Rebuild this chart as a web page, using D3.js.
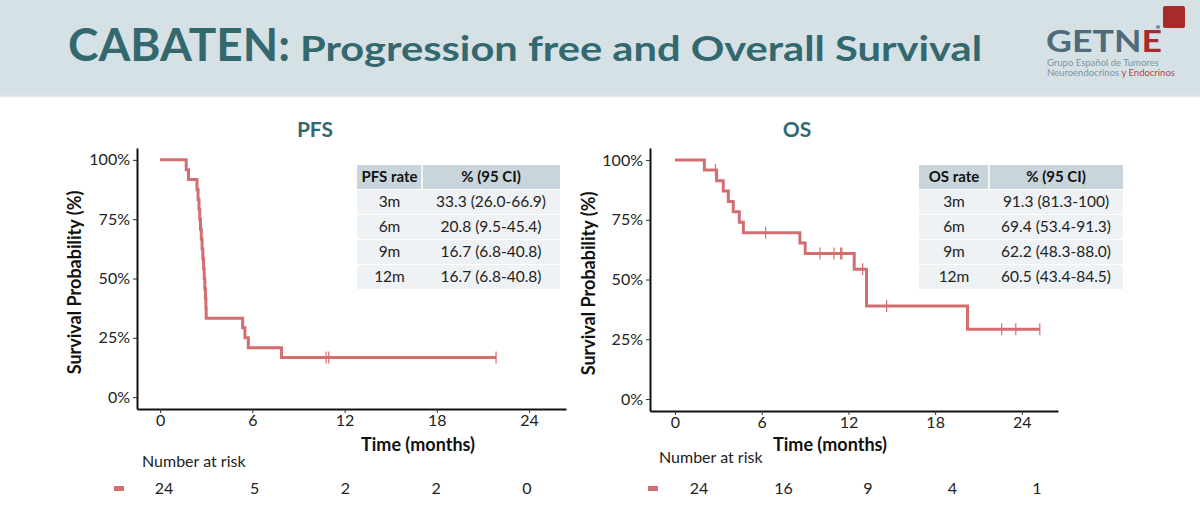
<!DOCTYPE html>
<html lang="en">
<head>
<meta charset="UTF-8">
<title>CABATEN survival</title>
<script src="https://cdnjs.cloudflare.com/ajax/libs/d3/7.8.5/d3.min.js"></script>
<style>
  body { margin: 0; background: #fff; }
  text { font-family: Lato, "Open Sans", sans-serif; }
</style>
</head>
<body>
<div id="chart"></div>
<script>
// ---- data ----
const timeTicks = [0, 6, 12, 18, 24];
const survTicks = [0, 25, 50, 75, 100];

// PFS Kaplan-Meier steps (months, %)
const pfsTimes = [0, 1.7, 1.85, 2.4, 2.47, 2.53, 2.58, 2.63, 2.68, 2.73, 2.78, 2.83, 2.87, 2.91, 2.95, 2.98, 3.0, 5.37, 5.52, 5.74, 7.9, 21.85];
const pfsSurv  = [100, 95.8, 91.7, 87.5, 83.3, 79.2, 75.0, 70.8, 66.7, 62.5, 58.3, 54.2, 50.0, 45.8, 41.7, 37.5, 33.3, 29.2, 25.0, 20.8, 16.7, 16.7];
const pfsCensor = [10.8, 10.97, 21.85];
const pfsRisk = [24, 5, 2, 2, 0];
const pfsRateLabels = ["3m", "6m", "9m", "12m"];
const pfsRateValues = ["33.3 (26.0-66.9)", "20.8 (9.5-45.4)", "16.7 (6.8-40.8)", "16.7 (6.8-40.8)"];

// OS Kaplan-Meier steps
const osTimes = [0, 2.03, 2.88, 3.34, 3.69, 4.03, 4.45, 4.73, 8.64, 9.01, 12.4, 13.25, 20.24, 25.24];
const osSurv  = [100, 95.8, 91.3, 87.0, 82.6, 78.3, 73.9, 69.6, 65.3, 60.9, 54.3, 38.9, 29.2, 29.2];
const osCensor = [2.8, 6.27, 10.03, 11.0, 11.46, 11.55, 12.98, 14.64, 22.6, 23.58, 25.24];
const osRisk = [24, 16, 9, 4, 1];
const osRateLabels = ["3m", "6m", "9m", "12m"];
const osRateValues = ["91.3 (81.3-100)", "69.4 (53.4-91.3)", "62.2 (48.3-88.0)", "60.5 (43.4-84.5)"];

const teal = "#33696e";
const kmColor = "#d26e70";

const svg = d3.select("#chart").append("svg")
  .attr("width", 1200).attr("height", 509);

// header band
svg.append("rect").attr("x", 0).attr("y", 0).attr("width", 1200).attr("height", 96).attr("fill", "#d6e1e6");
svg.append("line").attr("x1", 0).attr("x2", 1200).attr("y1", 96.5).attr("y2", 96.5).attr("stroke", "#e4eaed").attr("stroke-width", 2);

svg.append("text").attr("x", 68).attr("y", 61)
  .attr("fill", teal).attr("font-weight", 700).attr("font-size", 46)
  .attr("textLength", 222).attr("lengthAdjust", "spacingAndGlyphs")
  .text("CABATEN:");
svg.append("text").attr("x", 300).attr("y", 61)
  .attr("fill", teal).attr("font-weight", 700).attr("font-size", 34)
  .attr("textLength", 682).attr("lengthAdjust", "spacingAndGlyphs")
  .text("Progression free and Overall Survival");

// logo
const logo = svg.append("g");
logo.append("rect").attr("x", 1163).attr("y", 6).attr("width", 22).attr("height", 22).attr("rx", 2).attr("fill", "#a52c2b");
logo.append("circle").attr("cx", 1158).attr("cy", 27).attr("r", 2).attr("fill", "#6f8c9b");
const gt = logo.append("text").attr("x", 1046).attr("y", 52)
  .attr("font-size", 31).attr("font-weight", 700)
  .attr("textLength", 116).attr("lengthAdjust", "spacingAndGlyphs");
gt.append("tspan").attr("fill", "#4f6b7c").text("GETN");
gt.append("tspan").attr("fill", "#a52c2b").text("E");
logo.append("text").attr("x", 1047).attr("y", 66).attr("font-size", 9.5).attr("fill", "#7c94a3").text("Grupo Español de Tumores");
const sub = logo.append("text").attr("x", 1047).attr("y", 76).attr("font-size", 9.5);
sub.append("tspan").attr("fill", "#7c94a3").text("Neuroendocrinos ");
sub.append("tspan").attr("fill", "#b0474a").text("y Endocrinos");

function panel(cfg) {
  const g = svg.append("g");
  const x = d3.scaleLinear().domain(cfg.xDomain).range(cfg.xRange);
  const y = d3.scaleLinear().domain([-5, 105]).range(cfg.yRange);

  g.append("text").attr("x", cfg.titleX).attr("y", 137).attr("text-anchor", "middle")
    .attr("font-size", 21).attr("font-weight", 700).attr("fill", teal).text(cfg.title);

  const xAxis = g.append("g").attr("transform", `translate(0,${cfg.yRange[0]})`)
    .call(d3.axisBottom(x).tickValues(timeTicks).tickSize(4).tickPadding(2).tickSizeOuter(0));
  const yAxis = g.append("g").attr("transform", `translate(${cfg.xRange[0]},0)`)
    .call(d3.axisLeft(y).tickValues(survTicks).tickFormat(d => d + "%").tickSize(4).tickPadding(3).tickSizeOuter(0));
  [xAxis, yAxis].forEach(a => {
    a.select(".domain").attr("stroke", "#111").attr("stroke-width", 2);
    a.selectAll(".tick line").attr("stroke", "#333");
    a.selectAll(".tick text").attr("font-size", 16).attr("fill", "#222").attr("font-family", "Lato, sans-serif");
  });

  g.append("text").attr("x", cfg.timeLabelX).attr("y", 451)
    .attr("text-anchor", "middle").attr("font-size", 18).attr("font-weight", 700).attr("fill", "#111")
    .text("Time (months)");
  g.append("text").attr("transform", `translate(${cfg.yLabelX},${(cfg.yRange[0] + cfg.yRange[1]) / 2 + 4}) rotate(-90)`)
    .attr("text-anchor", "middle").attr("font-size", 18).attr("font-weight", 700).attr("fill", "#111")
    .text("Survival Probability (%)");

  // KM curve
  const pts = cfg.times.map((t, i) => [t, cfg.surv[i]]);
  const line = d3.line().x(d => x(d[0])).y(d => y(d[1])).curve(d3.curveStepAfter);
  g.append("path").datum(pts).attr("d", line)
    .attr("fill", "none").attr("stroke", kmColor).attr("stroke-width", 3);

  const bis = d3.bisector(d => d).right;
  g.selectAll(".cens").data(cfg.censor).enter().append("line")
    .attr("x1", d => x(d)).attr("x2", d => x(d))
    .attr("y1", d => y(cfg.surv[bis(cfg.times, d) - 1]) - 6)
    .attr("y2", d => y(cfg.surv[bis(cfg.times, d) - 1]) + 6)
    .attr("stroke", kmColor).attr("stroke-width", 1.2);

  // rate table
  const tb = cfg.table;
  const rowH = 25;
  g.append("rect").attr("x", tb.x).attr("y", 165).attr("width", tb.w1 + tb.w2).attr("height", 24).attr("fill", "#c9d5da");
  g.append("line").attr("x1", tb.x + tb.w1).attr("x2", tb.x + tb.w1).attr("y1", 165).attr("y2", 189).attr("stroke", "#fff").attr("stroke-width", 1.5);
  g.append("text").attr("x", tb.x + tb.w1 / 2).attr("y", 182).attr("text-anchor", "middle")
    .attr("font-size", 15).attr("font-weight", 700).attr("fill", "#111").text(tb.head);
  g.append("text").attr("x", tb.x + tb.w1 + tb.w2 / 2).attr("y", 182).attr("text-anchor", "middle")
    .attr("font-size", 15).attr("font-weight", 700).attr("fill", "#111").text("% (95 CI)");
  const rows = g.selectAll(".row").data(tb.labels).enter().append("g")
    .attr("transform", (d, i) => `translate(0,${190 + i * rowH})`);
  rows.append("rect").attr("x", tb.x).attr("y", 0).attr("width", tb.w1 + tb.w2).attr("height", rowH - 1).attr("fill", "#eef2f4");
  rows.append("text").attr("x", tb.x + tb.w1 / 2).attr("y", 17).attr("text-anchor", "middle")
    .attr("font-size", 15.5).attr("fill", "#222").text(d => d);
  rows.append("text").attr("x", tb.x + tb.w1 + tb.w2 / 2).attr("y", 17).attr("text-anchor", "middle")
    .attr("font-size", 15.5).attr("fill", "#222").text((d, i) => tb.values[i]);

  // number at risk
  g.append("text").attr("x", cfg.riskLabelX).attr("y", cfg.riskLabelY).attr("font-size", 16).attr("fill", "#222")
    .text("Number at risk");
  g.append("rect").attr("x", cfg.riskRectX).attr("y", 486).attr("width", 10).attr("height", 5).attr("fill", kmColor);
  const rx = d3.scaleLinear().domain([0, 24]).range(cfg.riskRange);
  g.selectAll(".risk").data(cfg.risk).enter().append("text")
    .attr("x", (d, i) => rx(timeTicks[i])).attr("y", 494).attr("text-anchor", "middle")
    .attr("font-size", 16).attr("fill", "#222").text(d => d);
}

panel({
  title: "PFS", titleX: 315, timeLabelX: 418,
  xDomain: [-1.5, 26.4], xRange: [137, 566], yRange: [409, 148], yLabelX: 81,
  times: pfsTimes, surv: pfsSurv, censor: pfsCensor, risk: pfsRisk,
  table: { x: 357, w1: 65, w2: 138, head: "PFS rate", labels: pfsRateLabels, values: pfsRateValues },
  riskLabelX: 142, riskLabelY: 467, riskRectX: 114, riskRange: [164, 527]
});

panel({
  title: "OS", titleX: 797, timeLabelX: 830,
  xDomain: [-1.73, 26.5], xRange: [650, 1058], yRange: [411, 148], yLabelX: 595,
  times: osTimes, surv: osSurv, censor: osCensor, risk: osRisk,
  table: { x: 919, w1: 70, w2: 134, head: "OS rate", labels: osRateLabels, values: osRateValues },
  riskLabelX: 659, riskLabelY: 463, riskRectX: 648, riskRange: [699, 1037]
});
</script>
</body>
</html>
